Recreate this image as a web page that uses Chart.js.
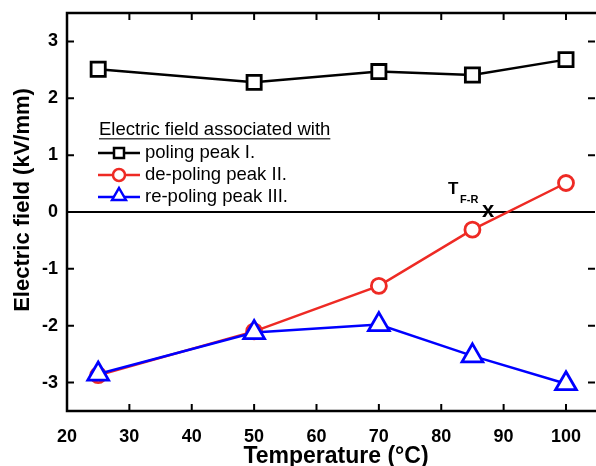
<!DOCTYPE html>
<html>
<head>
<meta charset="utf-8">
<script src="https://cdn.jsdelivr.net/npm/chart.js@4.4.1/dist/chart.umd.min.js"></script>
<style>
  body { margin: 0; background: #fff; }
  #wrap { width: 596px; height: 466px; }
</style>
</head>
<body>
<div id="wrap"><canvas id="chart" width="596" height="466"></canvas></div>
<script>
// values
const temps = [25, 50, 70, 85, 100];
const polingPeak = [2.51, 2.28, 2.47, 2.41, 2.68];
const depolingPeak = [-2.87, -2.10, -1.30, -0.31, 0.51];
const repolingPeak = [-2.85, -2.12, -1.98, -2.53, -3.02];
const xTicks = [20, 30, 40, 50, 60, 70, 80, 90, 100];
const yTicks = [-3, -2, -1, 0, 1, 2, 3];
const seriesNames = ["poling peak I.", "de-poling peak II.", "re-poling peak III."];
const legendTitle = "Electric field associated with";
const xTitle = "Temperature (°C)";
const yTitle = "Electric field (kV/mm)";
const transition = { x: 87.5, y: 0, label: "T", sub: "F-R" };

const RED = "#ee2a24";
const BLUE = "#0000ff";
const FONT = "'Liberation Sans', Arial, sans-serif";

function pts(ys) {
  return temps.map((t, i) => ({ x: t, y: ys[i] }));
}

function marker(ctx, style, x, y, r, color, lw) {
  ctx.save();
  ctx.strokeStyle = color;
  ctx.fillStyle = "#fff";
  ctx.lineWidth = lw;
  ctx.beginPath();
  if (style === "rect") {
    ctx.rect(x - r, y - r, 2 * r, 2 * r);
  } else if (style === "circle") {
    ctx.arc(x, y, r, 0, Math.PI * 2);
  } else {
    ctx.moveTo(x, y - r);
    ctx.lineTo(x + r * 0.866, y + r * 0.5);
    ctx.lineTo(x - r * 0.866, y + r * 0.5);
    ctx.closePath();
  }
  ctx.fill();
  ctx.stroke();
  ctx.restore();
}

const framePlugin = {
  id: "frame",
  beforeDatasetsDraw(chart) {
    const { ctx, chartArea: a, scales } = chart;
    ctx.save();
    ctx.strokeStyle = "#000";
    // zero line
    const y0 = scales.y.getPixelForValue(0);
    ctx.lineWidth = 2;
    ctx.beginPath();
    ctx.moveTo(a.left, y0);
    ctx.lineTo(a.right, y0);
    ctx.stroke();
    // inward ticks on all four sides
    const tl = 7;
    ctx.lineWidth = 2;
    ctx.beginPath();
    xTicks.forEach(v => {
      const px = scales.x.getPixelForValue(v);
      ctx.moveTo(px, a.bottom); ctx.lineTo(px, a.bottom - tl);
      ctx.moveTo(px, a.top); ctx.lineTo(px, a.top + tl);
    });
    yTicks.forEach(v => {
      const py = scales.y.getPixelForValue(v);
      ctx.moveTo(a.left, py); ctx.lineTo(a.left + tl, py);
      ctx.moveTo(a.right, py); ctx.lineTo(a.right - tl, py);
    });
    ctx.stroke();
    // box (right side runs off the canvas like the original)
    ctx.lineWidth = 2.5;
    ctx.strokeRect(a.left, a.top, a.right - a.left + 4, a.bottom - a.top);
    ctx.restore();
  },
  afterDraw(chart) {
    const { ctx, scales } = chart;
    ctx.save();
    ctx.fillStyle = "#000";

    // axis titles
    ctx.font = "bold 23px " + FONT;
    ctx.textAlign = "center";
    ctx.textBaseline = "middle";
    ctx.fillText(xTitle, 336, 457);
    ctx.save();
    ctx.translate(23, 200);
    ctx.rotate(-Math.PI / 2);
    ctx.font = "bold 22px " + FONT;
    ctx.fillText(yTitle, 0, 0);
    ctx.restore();

    // legend
    const lx = 99;
    ctx.textAlign = "left";
    ctx.font = "18.5px " + FONT;
    ctx.textBaseline = "alphabetic";
    ctx.fillText(legendTitle, lx, 135);
    const tw = ctx.measureText(legendTitle).width;
    ctx.fillStyle = "#444";
    ctx.fillRect(lx, 138, tw, 1.5);
    ctx.fillStyle = "#000";
    const styles = ["rect", "circle", "triangle"];
    const sizes = [5, 6, 8];
    chart.data.datasets.forEach((ds, i) => {
      const cy = 153 + i * 22;
      ctx.strokeStyle = ds.borderColor;
      ctx.lineWidth = 2.5;
      ctx.beginPath();
      ctx.moveTo(98, cy); ctx.lineTo(140, cy);
      ctx.stroke();
      marker(ctx, styles[i], 119, i === 2 ? cy - 1 : cy, sizes[i], ds.borderColor, 2.5);
      ctx.fillStyle = "#000";
      ctx.textBaseline = "middle";
      ctx.fillText(ds.label, 145, cy);
    });

    // transition mark
    const tx = scales.x.getPixelForValue(transition.x);
    const ty = scales.y.getPixelForValue(transition.y);
    ctx.textBaseline = "alphabetic";
    ctx.font = "bold 17px " + FONT;
    ctx.fillText(transition.label, tx - 40, ty - 18);
    ctx.font = "bold 11px " + FONT;
    ctx.fillText(transition.sub, tx - 28, ty - 9);
    ctx.font = "bold 22px " + FONT;
    ctx.textAlign = "center";
    ctx.textBaseline = "middle";
    ctx.fillText("x", tx, ty - 1);
    ctx.restore();
  }
};

const tickFont = { family: FONT, size: 18, weight: "bold" };

new Chart(document.getElementById("chart"), {
  type: "scatter",
  data: {
    datasets: [
      {
        label: seriesNames[0], data: pts(polingPeak), showLine: true,
        borderColor: "#000", borderWidth: 2.5, pointStyle: "rect", pointRadius: 10,
        pointBackgroundColor: "#fff", pointBorderColor: "#000", pointBorderWidth: 2.8, order: 1
      },
      {
        label: seriesNames[1], data: pts(depolingPeak), showLine: true,
        borderColor: RED, borderWidth: 2.5, pointStyle: "circle", pointRadius: 7.5,
        pointBackgroundColor: "#fff", pointBorderColor: RED, pointBorderWidth: 2.8, order: 2
      },
      {
        label: seriesNames[2], data: pts(repolingPeak), showLine: true,
        borderColor: BLUE, borderWidth: 2.5, pointStyle: "triangle", pointRadius: 12,
        pointBackgroundColor: "#fff", pointBorderColor: BLUE, pointBorderWidth: 2.8, order: 0
      }
    ]
  },
  options: {
    responsive: false,
    animation: false,
    layout: { autoPadding: false, padding: { top: 13, right: 1, left: 0, bottom: 0 } },
    plugins: { legend: { display: false }, tooltip: { enabled: false } },
    scales: {
      x: {
        type: "linear", min: 20, max: 104.65,
        afterBuildTicks: s => { s.ticks = xTicks.map(v => ({ value: v })); },
        afterFit: s => { s.height = 55; s.paddingLeft = 0; s.paddingRight = 0; },
        grid: { display: false, drawTicks: false },
        border: { display: false },
        ticks: { font: tickFont, color: "#000", padding: 15, maxRotation: 0 }
      },
      y: {
        type: "linear", min: -3.5, max: 3.5,
        afterBuildTicks: s => { s.ticks = yTicks.map(v => ({ value: v })); },
        afterFit: s => { s.width = 67; s.paddingTop = 0; s.paddingBottom = 0; },
        grid: { display: false, drawTicks: false },
        border: { display: false },
        ticks: { font: tickFont, color: "#000", padding: 9 }
      }
    }
  },
  plugins: [framePlugin]
});
</script>
</body>
</html>
